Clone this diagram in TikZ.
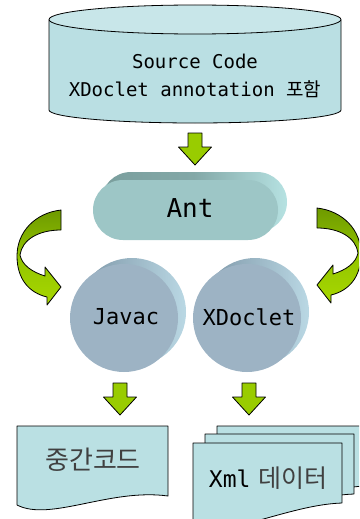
\documentclass[tikz,border=0pt]{standalone}
\usepackage{fontspec}
\newfontfamily\monof{DejaVu Sans Mono}
\newfontfamily\krf{Noto Sans CJK KR}
\definecolor{cylfill}{HTML}{BADFE3}
\definecolor{cyltop}{HTML}{C8E6E9}
\definecolor{docfill}{HTML}{BAE0E3}
\definecolor{antface}{HTML}{9DC6C6}
\definecolor{antdark}{HTML}{7A9E9D}
\definecolor{antlight}{HTML}{B6E2E2}
\definecolor{circface}{HTML}{9DB3C4}
\definecolor{circdark}{HTML}{7C95A6}
\definecolor{circlight}{HTML}{BAD8E4}
\definecolor{lime}{HTML}{99CC00}
\definecolor{olive}{HTML}{6E9A00}
\definecolor{limelight}{HTML}{A8D800}
\definecolor{graytext}{HTML}{404040}
\tikzset{
  outline/.style={draw=black, line width=0.8pt, line join=round},
  greenarrow/.style={outline, fill=lime},
  curvedarrow/.style={outline, top color=olive, bottom color=limelight, middle color=lime!85!olive},
  darrow/.pic={\path[greenarrow] (-7,0) -- (7,0) -- (7,14) -- (16.5,14) -- (0,32) -- (-16.5,14) -- (-7,14) -- cycle;},
  sheet/.pic={\path[outline, fill=docfill] (0,0) -- (149,0) -- (149,60) .. controls (93,62) and (33,97) .. (0,81) -- cycle;},
  monotext/.style={font=\monof, text=black, inner sep=0pt},
}
\begin{document}
\begin{tikzpicture}[x=1pt,y=-1pt]
\useasboundingbox (0,0) rectangle (359,519);
\clip (0,0) rectangle (359,519);

% cylinder
\path[fill=cylfill] (49,20) -- (49,110) .. controls (49,117.2) and (114.4,123) .. (195,123)
   .. controls (275.6,123) and (341,117.2) .. (341,110) -- (341,20) -- cycle;
\draw[line width=0.8pt] (49,20) -- (49,110) .. controls (49,117.2) and (114.4,123) .. (195,123)
   .. controls (275.6,123) and (341,117.2) .. (341,110) -- (341,20);
\path[outline, fill=cyltop] (195,19.5) ellipse [x radius=146, y radius=14.5];
\node[monotext, align=center, font=\monof\fontsize{19}{28}\selectfont] (src) at (195,76)
  {Source Code\\XDoclet annotation {\krf 포함}};

% arrow to Ant
\pic at (195,133) {darrow};

% Ant
\shade[left color=antdark, right color=antlight, middle color=antdark!85!antlight, rounded corners=30pt] (101,172) rectangle (287,232);
\fill[antface, rounded corners=30pt] (93,180) rectangle (278,240);
\node[monotext, font=\monof\fontsize{26}{30}\selectfont] (ant) at (190,208) {Ant};

% curved arrows
\path[curvedarrow] (61,210) .. controls (35,213) and (17,232) .. (17,256)
  .. controls (17,280) and (30,293) .. (47,297) -- (47,305) -- (61,287) -- (45,267) -- (45,276)
  .. controls (32,272) and (22,265) .. (20,255)
  .. controls (22,240) and (38,230) .. (61,230) -- cycle;
\begin{scope}[shift={(378,-2)}, xscale=-1]
\path[curvedarrow] (61,210) .. controls (35,213) and (17,232) .. (17,256)
  .. controls (17,280) and (30,293) .. (47,297) -- (47,305) -- (61,287) -- (45,267) -- (45,276)
  .. controls (32,272) and (22,265) .. (20,255)
  .. controls (22,240) and (38,230) .. (61,230) -- cycle;
\end{scope}

% circles
\shade[left color=circdark, right color=circlight] (132,312) circle (54);
\fill[circface] (124,318) circle (54);
\node[monotext, font=\monof\fontsize{22}{26}\selectfont] (javac) at (126,317) {Javac};
\shade[left color=circdark, right color=circlight] (255,312) circle (54);
\fill[circface] (247,318) circle (54);
\node[monotext, font=\monof\fontsize{22}{26}\selectfont] (xdoclet) at (249,317) {XDoclet};

% arrows down
\pic at (120,383) {darrow};
\pic at (249,383) {darrow};

% document
\path[outline, fill=docfill] (17,426) -- (168,426) -- (168,496) .. controls (110,488) and (50,522) .. (17,505) -- cycle;
\node[font=\krf\fontsize{26}{30}\selectfont, text=graytext, inner sep=0pt] (mid) at (93,460) {중간코드};

% multi document
\pic at (217,426) {sheet};
\pic at (205,434) {sheet};
\pic at (193,443) {sheet};
\node[inner sep=0pt, font=\fontsize{25}{30}\selectfont] (xml) at (268,478) {{\monof\fontsize{23}{30}\selectfont Xml} {\krf\color{graytext}데이터}};
\end{tikzpicture}
\end{document}
